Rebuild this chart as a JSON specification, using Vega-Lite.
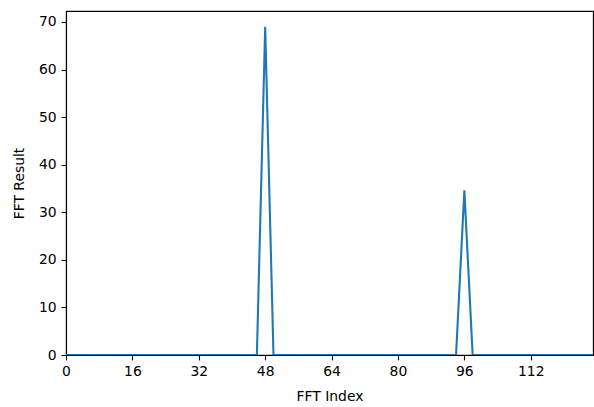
{
  "$schema": "https://vega.github.io/schema/vega-lite/v6.json",
  "width": 527,
  "height": 344,
  "autosize": {"type": "none"},
  "padding": {"left": 66, "top": 11, "right": 1, "bottom": 52},
  "background": "white",
  "config": {
    "view": {"stroke": "#000", "strokeWidth": 1.1},
    "font": "DejaVu Sans",
    "axis": {
      "domainColor": "#000",
      "domainWidth": 1.1,
      "tickColor": "#000",
      "tickWidth": 1.1,
      "tickSize": 4.9,
      "labelPadding": 4.9,
      "labelFlush": false,
      "labelFont": "DejaVu Sans",
      "labelFontSize": 13.9,
      "labelColor": "#000",
      "titleFont": "DejaVu Sans",
      "titleFontSize": 13.9,
      "titleFontWeight": "normal",
      "titleColor": "#000",
      "grid": false
    }
  },
  "data": {
    "values": [
      {"i": 0, "v": 0}, {"i": 2, "v": 0}, {"i": 4, "v": 0}, {"i": 6, "v": 0},
      {"i": 8, "v": 0}, {"i": 10, "v": 0}, {"i": 12, "v": 0}, {"i": 14, "v": 0},
      {"i": 16, "v": 0}, {"i": 18, "v": 0}, {"i": 20, "v": 0}, {"i": 22, "v": 0},
      {"i": 24, "v": 0}, {"i": 26, "v": 0}, {"i": 28, "v": 0}, {"i": 30, "v": 0},
      {"i": 32, "v": 0}, {"i": 34, "v": 0}, {"i": 36, "v": 0}, {"i": 38, "v": 0},
      {"i": 40, "v": 0}, {"i": 42, "v": 0}, {"i": 44, "v": 0}, {"i": 46, "v": 0},
      {"i": 48, "v": 69.0}, {"i": 50, "v": 0}, {"i": 52, "v": 0}, {"i": 54, "v": 0},
      {"i": 56, "v": 0}, {"i": 58, "v": 0}, {"i": 60, "v": 0}, {"i": 62, "v": 0},
      {"i": 64, "v": 0}, {"i": 66, "v": 0}, {"i": 68, "v": 0}, {"i": 70, "v": 0},
      {"i": 72, "v": 0}, {"i": 74, "v": 0}, {"i": 76, "v": 0}, {"i": 78, "v": 0},
      {"i": 80, "v": 0}, {"i": 82, "v": 0}, {"i": 84, "v": 0}, {"i": 86, "v": 0},
      {"i": 88, "v": 0}, {"i": 90, "v": 0}, {"i": 92, "v": 0}, {"i": 94, "v": 0},
      {"i": 96, "v": 34.6}, {"i": 98, "v": 0}, {"i": 100, "v": 0}, {"i": 102, "v": 0},
      {"i": 104, "v": 0}, {"i": 106, "v": 0}, {"i": 108, "v": 0}, {"i": 110, "v": 0},
      {"i": 112, "v": 0}, {"i": 114, "v": 0}, {"i": 116, "v": 0}, {"i": 118, "v": 0},
      {"i": 120, "v": 0}, {"i": 122, "v": 0}, {"i": 124, "v": 0}, {"i": 126, "v": 0},
      {"i": 127, "v": 0}
    ]
  },
  "mark": {"type": "line", "color": "#1f77b4", "strokeWidth": 2.08, "clip": true},
  "encoding": {
    "x": {
      "field": "i",
      "type": "quantitative",
      "scale": {"domain": [0, 127], "nice": false, "zero": false},
      "axis": {"title": "FFT Index", "values": [0, 16, 32, 48, 64, 80, 96, 112], "titlePadding": 11}
    },
    "y": {
      "field": "v",
      "type": "quantitative",
      "scale": {"domain": [0, 72.3], "nice": false},
      "axis": {"title": "FFT Result", "values": [0, 10, 20, 30, 40, 50, 60, 70], "titlePadding": 12}
    }
  }
}
